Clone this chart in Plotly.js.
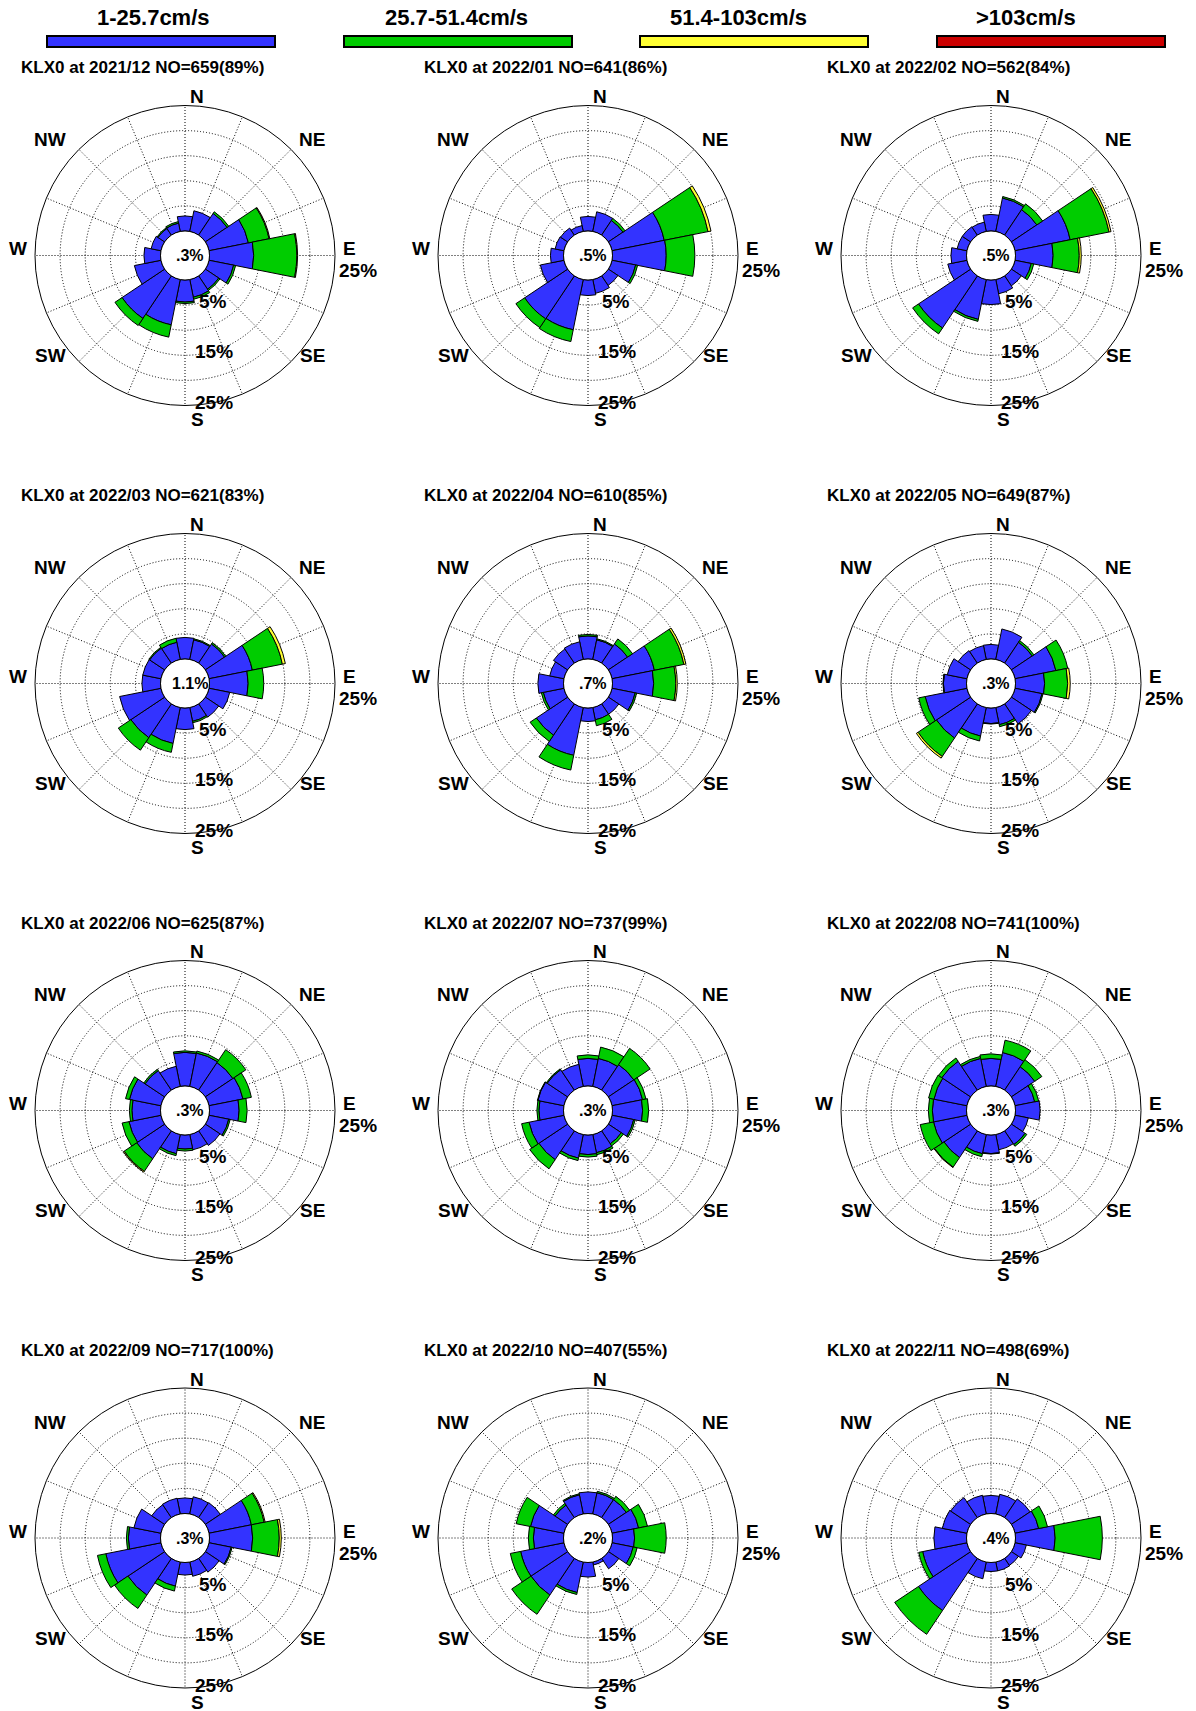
<!DOCTYPE html>
<html>
<head>
<meta charset="utf-8">
<script src="https://cdn.plot.ly/plotly-3.0.1.min.js"></script>
<style>html,body{margin:0;padding:0;background:#fff;}</style>
</head>
<body>
<div id="chart" style="width:1196px;height:1711px;"></div>
<script>
// ---------------- DATA ----------------
const station = 'KLX0';
const months = ['2021/12','2022/01','2022/02','2022/03','2022/04','2022/05','2022/06','2022/07','2022/08','2022/09','2022/10','2022/11'];
const obsCount = [659, 641, 562, 621, 610, 649, 625, 737, 741, 717, 407, 498];
const obsPct = [89, 86, 84, 83, 85, 87, 87, 99, 100, 100, 55, 69];
const calmPct = ['.3%', '.5%', '.5%', '1.1%', '.7%', '.3%', '.3%', '.3%', '.3%', '.3%', '.2%', '.4%'];
const dirNames = ['N','NNE','NE','ENE','E','ESE','SE','SSE','S','SSW','SW','WSW','W','WNW','NW','NNW'];
const dirAngles = [0,22.5,45,67.5,90,112.5,135,157.5,180,202.5,225,247.5,270,292.5,315,337.5];
const compassLabels = ['N','NE','E','SE','S','SW','W','NW'];
const ringLabels = ['5%','15%','25%'];
const speedLabels = ['1-25.7cm/s','25.7-51.4cm/s','51.4-103cm/s','>103cm/s'];
const speedColors = ['#3333ff','#00cc00','#ffff33','#cc0000'];

// frequency (%) per direction, class 1-25.7 cm/s  (order of dirNames)
const speed1 = [
  [3.0,4.2,5.2,8.0,8.8,5.0,3.2,3.6,4.4,9.2,10.2,5.4,3.3,2.0,1.6,1.7],   // 2021/12
  [2.9,4.0,3.5,10.6,10.7,4.8,2.3,2.8,3.1,10.2,10.3,4.8,2.6,1.8,1.7,1.2], // 2022/01
  [3.3,6.8,6.1,11.2,7.5,3.3,2.4,2.9,4.9,8.1,12.5,3.9,3.1,2.0,2.0,1.9],  // 2022/02
  [4.3,4.0,4.6,8.8,7.7,4.2,3.2,2.8,4.3,7.3,8.1,8.4,3.7,3.7,3.6,3.5],    // 2022/03
  [4.6,4.0,4.6,8.6,8.2,4.7,2.5,2.5,2.7,9.7,7.5,4.2,5.1,2.9,3.4,3.6],    // 2022/04
  [2.9,6.2,5.0,8.3,5.8,5.5,4.8,3.5,3.1,5.8,8.2,8.5,4.6,4.0,3.0,2.8],    // 2022/05
  [6.7,6.8,6.6,6.9,5.9,4.0,3.5,3.1,2.8,3.9,6.7,6.5,5.7,6.4,4.7,4.1],    // 2022/06
  [5.5,5.7,6.1,6.2,6.0,4.4,3.1,3.7,3.9,4.8,6.9,7.1,4.9,5.3,4.9,4.5],    // 2022/07
  [5.5,6.9,5.6,4.0,4.9,2.7,3.3,3.1,3.7,3.9,6.4,6.8,6.8,6.7,6.9,5.7],    // 2022/08
  [3.1,3.5,3.6,8.6,8.6,4.5,3.3,2.9,2.5,4.9,8.8,11.2,6.4,5.5,3.1,3.2],   // 2022/09
  [4.3,4.3,4.3,5.4,4.4,4.3,2.5,0.6,2.9,6.2,8.8,8.8,6.0,6.8,3.0,3.9],    // 2022/10
  [3.6,4.0,4.5,4.8,7.9,2.3,1.7,1.8,1.8,3.4,12.5,9.0,6.5,5.0,4.8,3.8]    // 2022/11
];
// class 25.7-51.4 cm/s
const speed2 = [
  [0,0,0.4,4.2,8.6,0.4,0.3,0.4,0.3,2.5,1.7,0,0,0,0.2,0.3],
  [0,0,0.5,8.9,5.7,0.4,0,0,0,2.4,2.1,0,0,0,0,0],
  [0,0.3,1.4,7.9,5.2,0.5,0,0,0,0.4,1.4,0,0,0,0,0],
  [0,0.2,0.3,6.1,3.1,0,0,0.3,0,1.8,3.0,0,0,0,0.2,0.8],
  [0.3,0.2,1.2,6.0,4.4,0.3,0,1.2,0,3.0,1.5,0.4,0,0,0,0],
  [0,0,0.4,2.4,4.6,0.2,0,0.4,0.1,1.0,4.4,1.3,0.1,0,0,0],
  [0.3,0.4,3.1,1.7,1.6,0.3,0,0,0.4,0.4,3.0,1.4,0.5,0.8,0.3,0],
  [0.7,2.3,3.9,0.7,1.2,0.3,0.5,0.4,0.5,0.5,2.2,1.5,0.4,0.1,0.2,0],
  [0.9,2.5,1.7,0.8,0,0,0.4,0,0.1,0.6,2.3,2.7,0.8,1.1,0.8,0.4],
  [0,0,0,2.6,5.3,0.2,0,0,0,1.0,3.2,1.7,0.4,0,0,0],
  [0,0.3,0.8,1.8,6.3,0.8,0,0,0,0.4,4.6,2.1,1.0,2.9,0.4,0.2],
  [0,0,0,1.8,9.4,0,0,0,0,0,5.7,0.8,0,0,0,0]
];
// class 51.4-103 cm/s
const speed3 = [
  [0,0,0,0.15,0.15,0,0,0,0,0,0,0,0,0,0,0],
  [0,0,0,0.6,0,0,0,0,0,0,0,0,0,0,0,0],
  [0,0,0,0.4,0.4,0,0,0,0,0,0,0,0,0,0,0],
  [0,0,0,0.6,0,0,0,0,0,0,0,0,0,0,0,0],
  [0,0,0,0.4,0.3,0,0,0,0,0,0,0,0,0,0,0],
  [0,0,0,0,0.5,0,0,0,0,0,0.4,0,0,0,0,0],
  [0,0,0,0,0,0,0,0,0,0,0.2,0,0,0,0,0],
  [0,0,0,0,0,0,0,0,0,0,0,0,0,0,0,0],
  [0,0,0,0,0,0,0,0,0,0,0.1,0,0,0,0,0],
  [0,0,0,0.2,0.4,0,0,0,0,0,0,0,0,0,0,0],
  [0,0,0,0,0,0,0,0,0,0,0,0,0,0,0,0],
  [0,0,0,0,0,0,0,0,0,0,0,0,0,0,0,0]
];
// class >103 cm/s
const speed4 = [
  [0,0,0,0,0,0,0,0,0,0,0,0,0,0,0,0],
  [0,0,0,0,0,0,0,0,0,0,0,0,0,0,0,0],
  [0,0,0,0,0,0,0,0,0,0,0,0,0,0,0,0],
  [0,0,0,0,0,0,0,0,0,0,0,0,0,0,0,0],
  [0,0,0,0,0,0,0,0,0,0,0,0,0,0,0,0],
  [0,0,0,0,0,0,0,0,0,0,0,0,0,0,0,0],
  [0,0,0,0,0,0,0,0,0,0,0,0,0,0,0,0],
  [0,0,0,0,0,0,0,0,0,0,0,0,0,0,0,0],
  [0,0,0,0,0,0,0,0,0,0,0,0,0,0,0,0],
  [0,0,0,0,0,0,0,0,0,0,0,0,0,0,0,0],
  [0,0,0,0,0,0,0,0,0,0,0,0,0,0,0,0],
  [0,0,0,0,0,0,0,0,0,0,0,0,0,0,0,0]
];

// ---------------- LAYOUT ----------------
const W = 1196, H = 1711;
const colCx = [185, 588, 991];
const rowCy = [255.5, 683.5, 1110.5, 1538];
const R = 150, HOLE = 24.5;
const FONT = 'Arial, "Liberation Sans", Helvetica, sans-serif';
const GRID_DASH = '1px,2px';
const px = x => x / W;
const py = y => 1 - y / H;

const classes = [speed1, speed2, speed3, speed4];
const data = [];
const layout = {
  width: W, height: H,
  margin: {l: 0, r: 0, t: 0, b: 0},
  paper_bgcolor: '#fff',
  showlegend: false,
  annotations: [],
  shapes: []
};

function ann(x, y, text, size, xanchor) {
  layout.annotations.push({
    xref: 'paper', yref: 'paper', x: px(x), y: py(y),
    text: '<b>' + text + '</b>', showarrow: false,
    xanchor: xanchor || 'center', yanchor: 'middle',
    font: {family: FONT, size: size, color: '#000'}
  });
}

// label offsets (relative to rose centre, in px)
const compassOffsets = [[12,-159],[127,-116],[164,-7],[127,100],[12,164],[-135,100],[-167,-7],[-135,-116]];
const ringOffsets = [[28,46],[29,96],[29,147]];

months.forEach((m, i) => {
  const cx = colCx[i % 3], cy = rowCy[Math.floor(i / 3)];
  const name = 'polar' + (i === 0 ? '' : (i + 1));
  layout[name] = {
    domain: {x: [px(cx - R), px(cx + R)], y: [py(cy + R), py(cy - R)]},
    hole: HOLE / R,
    bgcolor: '#fff',
    bargap: 0,
    barmode: 'stack',
    radialaxis: {
      range: [0, 25], tickmode: 'array', tickvals: [5, 10, 15, 20],
      showticklabels: false, ticks: '', showline: false,
      showgrid: true, gridcolor: '#000', gridwidth: 1, griddash: GRID_DASH,
      layer: 'above traces'
    },
    angularaxis: {
      direction: 'clockwise', rotation: 90,
      tickmode: 'array', tickvals: dirAngles,
      showticklabels: false, ticks: '',
      showline: true, linecolor: '#000', linewidth: 1,
      showgrid: true, gridcolor: '#000', gridwidth: 1, griddash: GRID_DASH,
      layer: 'above traces'
    }
  };
  classes.forEach((cls, k) => {
    const r = [], th = [];
    cls[i].forEach((v, d) => { if (v > 0) { r.push(v); th.push(dirAngles[d]); } });
    if (!r.length) return;
    data.push({
      type: 'barpolar', subplot: name, r: r, theta: th, width: 22.5,
      name: speedLabels[k],
      marker: {color: speedColors[k], line: {color: '#000', width: 1}},
      hoverinfo: 'skip', showlegend: false
    });
  });
  // title
  ann(cx - 166, cy - 187.5, station + ' at ' + m + ' NO=' + obsCount[i] + '(' + obsPct[i] + '%)', 17, 'left');
  // compass labels
  compassLabels.forEach((t, j) => ann(cx + compassOffsets[j][0], cy + compassOffsets[j][1], t, 19));
  ann(cx + 173, cy + 15, ringLabels[2], 19);
  ringLabels.forEach((t, j) => ann(cx + ringOffsets[j][0], cy + ringOffsets[j][1], t, 19));
  // calm
  ann(cx + 5, cy, calmPct[i], 16);
});

// legend (top)
const legBarX = [47, 344, 640, 937];
const legLabelX = [153, 456, 738, 1026];
speedLabels.forEach((t, k) => {
  layout.shapes.push({
    type: 'rect', xref: 'paper', yref: 'paper',
    x0: px(legBarX[k]), x1: px(legBarX[k] + 228), y0: py(47), y1: py(36),
    fillcolor: speedColors[k], line: {color: '#000', width: 2}
  });
  ann(legLabelX[k], 17.5, t, 22);
});

Plotly.newPlot('chart', data, layout, {staticPlot: true, displayModeBar: false});
</script>
</body>
</html>
